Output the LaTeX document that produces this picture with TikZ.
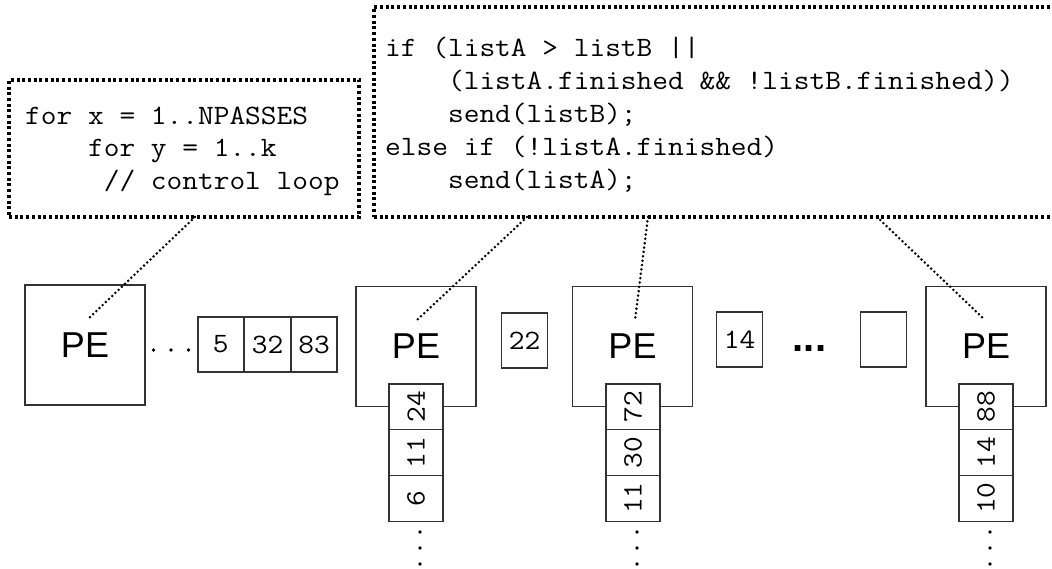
\documentclass[tikz,border=0pt]{standalone}
\usepackage{fontspec}
\setmainfont{Liberation Sans}
\newfontfamily\codefont{Latin Modern Mono}[FakeStretch=1.09]
\begin{document}
\begin{tikzpicture}[x=1pt,y=-1pt,
  codebox/.style={draw=black, line width=3.2pt, dash pattern=on 3pt off 2.7pt, inner sep=0pt},
  leader/.style={draw=black, line width=2.8pt, dash pattern=on 0pt off 4.4pt, line cap=round},
  code/.style={font=\fontsize{28}{33}\selectfont\codefont, inner sep=0pt, anchor=base west},
  pebox/.style={draw=black!80, line width=1.2pt, minimum width=120pt, minimum height=120pt, inner sep=0pt, font=\fontsize{36}{36}\selectfont},
  hcell/.style={draw=black!80, fill=white, line width=1.1pt, minimum width=45.6pt, minimum height=55pt, inner sep=0pt, font=\fontsize{28}{30}\selectfont\codefont},
  vcell/.style={draw=black!80, fill=white, line width=1.1pt, minimum width=54pt, minimum height=45.7pt, inner sep=0pt, font=\fontsize{28}{30}\selectfont\codefont},
  vnum/.style={rotate=90, inner sep=0pt, font=\fontsize{28}{30}\selectfont\codefont},
  dot/.style={circle, fill=black, inner sep=0pt, minimum size=3.8pt},
  hdots/.style={inner sep=0pt, font=\fontsize{28}{30}\selectfont\codefont},
  bdots/.style={inner sep=0pt, font=\fontsize{40}{40}\selectfont\bfseries}
]
\useasboundingbox (0,0) rectangle (1052,569);

% code boxes
\node[codebox, minimum width=350pt, minimum height=137pt] (box1) at (184,148.5) {};
\node[codebox, minimum width=726pt, minimum height=210pt] (box2) at (737,112) {};

\node[code] (c1) at (25,124.5) {for x = 1..NPASSES};
\node[code] (c2) at (25,157) {\phantom{0000}for y = 1..k};
\node[code] (c3) at (25,189.5) {\phantom{00000}// control loop};

\node[code] (d1) at (385,57) {if (listA > listB ||};
\node[code] (d2) at (385,90) {\phantom{0000}(listA.finished \&\& !listB.finished))};
\node[code] (d3) at (385,123) {\phantom{0000}send(listB);};
\node[code] (d4) at (385,156) {else if (!listA.finished)};
\node[code] (d5) at (385,189) {\phantom{0000}send(listA);};

% PE boxes
\node[pebox] (pe1) at (85,345) {PE};
\node[pebox] (pe2) at (416,346.5) {PE};
\node[pebox] (pe3) at (632.5,346.5) {PE};
\node[pebox] (pe4) at (986,346.5) {PE};

% horizontal cells
\node[dot] (hd1) at (153.5,350) {};
\node[dot] (hd2) at (171,350) {};
\node[dot] (hd3) at (188.5,350) {};
\node[hcell] (h1) at (220.8,344.5) {5};
\node[hcell, anchor=west] (h2) at (h1.east) {32};
\node[hcell, anchor=west] (h3) at (h2.east) {83};
\node[hcell] (h22) at (524.5,340.5) {22};
\node[hcell] (h14) at (739.5,339.5) {14};
\node[bdots] (bd) at (809.5,349) {...};
\node[hcell] (hempty) at (883.5,339.5) {};

% vertical cells under PE2
\node[vcell] (a1) at (416,406.85) {}; \node[vnum] at (a1) {24};
\node[vcell] (a2) at (416,452.55) {}; \node[vnum] at (a2) {11};
\node[vcell] (a3) at (416,498.25) {}; \node[vnum] at (a3) {6};
\node[dot] (ad1) at (420,532) {};
\node[dot] (ad2) at (420,548) {};
\node[dot] (ad3) at (420,564) {};

% vertical cells under PE3
\node[vcell] (b1) at (633,406.85) {}; \node[vnum] at (b1) {72};
\node[vcell] (b2) at (633,452.55) {}; \node[vnum] at (b2) {30};
\node[vcell] (b3) at (633,498.25) {}; \node[vnum] at (b3) {11};
\node[dot] (bd1) at (637,532) {};
\node[dot] (bd2) at (637,548) {};
\node[dot] (bd3) at (637,564) {};

% vertical cells under PE4
\node[vcell] (e1) at (986,406.85) {}; \node[vnum] at (e1) {88};
\node[vcell] (e2) at (986,452.55) {}; \node[vnum] at (e2) {14};
\node[vcell] (e3) at (986,498.25) {}; \node[vnum] at (e3) {10};
\node[dot] (ed1) at (990,532) {};
\node[dot] (ed2) at (990,548) {};
\node[dot] (ed3) at (990,564) {};

% leaders
\coordinate (s1) at (195,217); \coordinate (t1) at (87,320);
\coordinate (s2) at (527,217); \coordinate (t2) at (417,320);
\coordinate (s3) at (648,217); \coordinate (t3) at (635,320);
\coordinate (s4) at (877,217); \coordinate (t4) at (985,320);
\draw[leader] (s1) -- (t1);
\draw[leader] (s2) -- (t2);
\draw[leader] (s3) -- (t3);
\draw[leader] (s4) -- (t4);
\end{tikzpicture}
\end{document}
